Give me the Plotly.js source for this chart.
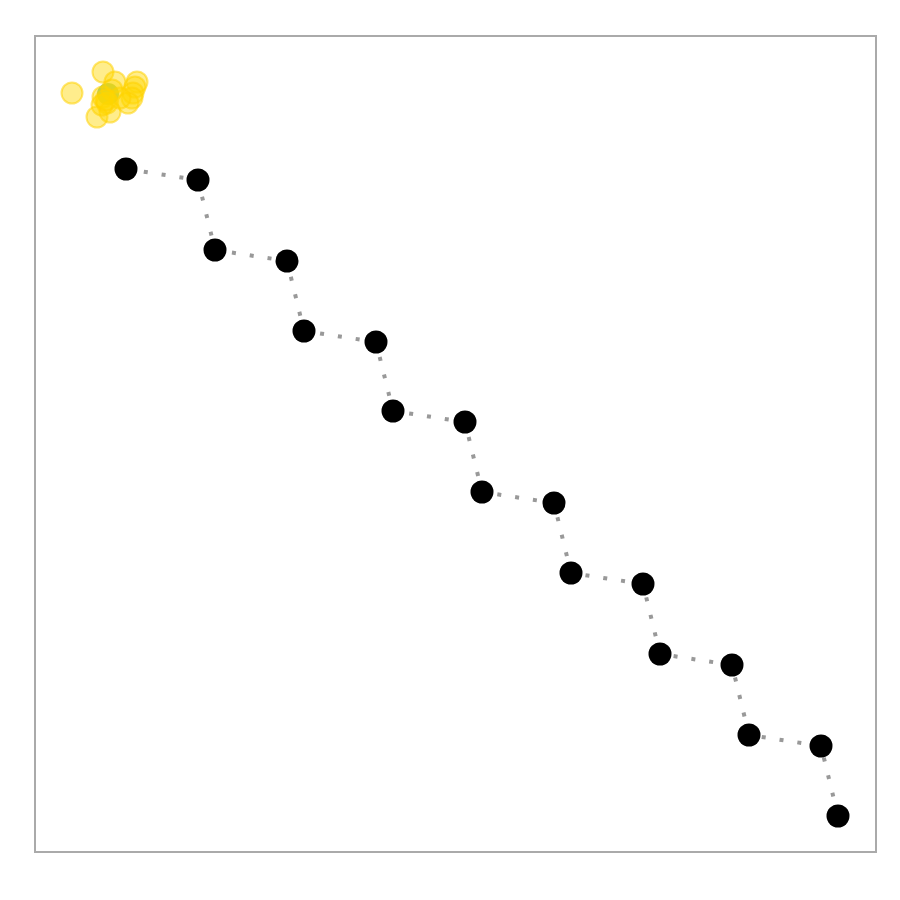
<!DOCTYPE html>
<html><head><meta charset="utf-8">
<script src="https://cdn.plot.ly/plotly-3.0.1.min.js"></script>
<style>body{margin:0}</style></head>
<body><div id="chart" style="width:900px;height:900px"></div>
<script>
const pathX = [126,198,215,287,304,376,393,465,482,554,571,643,660,732,749,821,838];
const pathY = [169,180,250,261,331,342,411,422,492,503,573,584,654,665,735,746,816];
const clusterX = [72,103,115,137,135,133,132,128,97,103,107,110,112,102,120,106];
const clusterY = [93,72,82,82,87,93,98,103,117,97,103,112,90,105,98,100];
const greenX = [108];
const greenY = [94];

const data = [
  {x: pathX, y: pathY, mode:'lines', line:{color:'#999999', width:4, dash:'4px,14px'}, hoverinfo:'skip', showlegend:false},
  {x: pathX, y: pathY, mode:'markers', marker:{color:'#000000', size:23}, showlegend:false},
  {x: greenX, y: greenY, mode:'markers', marker:{color:'rgba(120,190,90,0.8)', size:22}, showlegend:false},
  {x: clusterX, y: clusterY, mode:'markers', marker:{color:'rgba(255,215,0,0.45)', size:21, line:{color:'rgba(255,210,0,0.55)', width:2}}, showlegend:false}
];
const layout = {
  width:900, height:900,
  margin:{l:36, r:25, t:37, b:49},
  paper_bgcolor:'#ffffff', plot_bgcolor:'#ffffff',
  xaxis:{range:[36,875], showgrid:false, zeroline:false, showticklabels:false, ticks:'', showline:true, mirror:true, linecolor:'#aaaaaa', linewidth:2},
  yaxis:{range:[851,37], showgrid:false, zeroline:false, showticklabels:false, ticks:'', showline:true, mirror:true, linecolor:'#aaaaaa', linewidth:2},
  showlegend:false
};
Plotly.newPlot('chart', data, layout, {displayModeBar:false});
</script></body></html>
